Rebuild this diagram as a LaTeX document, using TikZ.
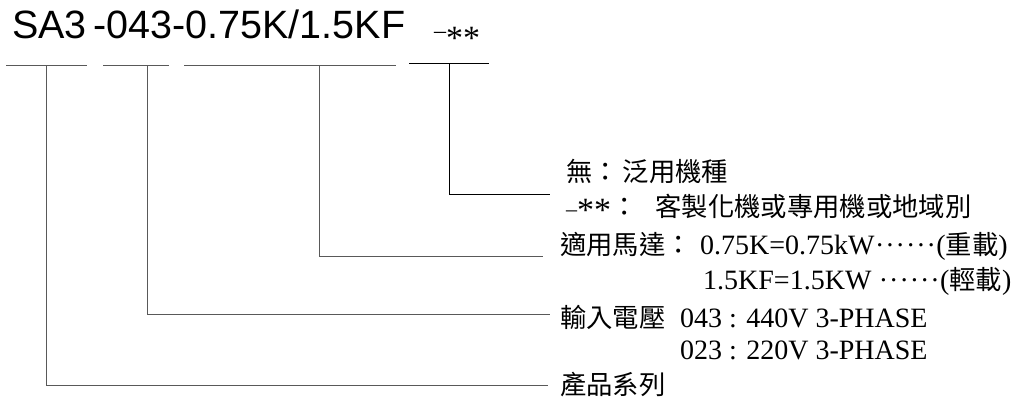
\documentclass[tikz,border=0pt]{standalone}
\usepackage{fontspec}
\setmainfont{Liberation Serif}
\newfontfamily\titlefont{Liberation Sans}
\newfontfamily\cjk[Scale=0.94]{Noto Sans CJK TC}
\usetikzlibrary{calc}
\newcommand\dotrow[0]{\foreach \k in {1,...,6}{\makebox[10.3pt]{·}}}

\begin{document}
\begin{tikzpicture}[x=1pt, y=-1pt]
\tikzset{lbl/.style={anchor=base west, inner sep=0pt, font=\fontsize{28}{28}\selectfont},
  lead/.style={black!65, line width=1pt}}
\useasboundingbox (0,0) rectangle (1012,405);

\node[anchor=base west, inner sep=0pt, font=\titlefont\fontsize{39.5}{39.5}\selectfont] (code) at (12,38) {SA3\,-043-0.75K/1.5KF};
\node[anchor=base west, inner sep=0pt, font=\fontsize{34}{34}\selectfont] (opt) at (434,38) {{\fontsize{24}{24}\selectfont –}\raisebox{-11pt}{**}};

\coordinate (tapS) at (46,65);
\coordinate (tapV) at (147,65);
\coordinate (tapM) at (319,65);
\coordinate (tapO) at (449,63);
\coordinate (endS) at (548,385);
\coordinate (endV) at (550,314);
\coordinate (endM) at (543,256);
\coordinate (endO) at (550,194);

\draw[lead] (6,65) -- (87,65);
\draw[lead] (103,65) -- (169,65);
\draw[lead] (184,65) -- (396,65);
\draw[lead, black] (409,63) -- (489,63);

\node[lbl] (none) at (566,181) {{\cjk 無：}\hspace{4pt}{\cjk 泛用機種}};
\node[lbl] (custom) at (566,216) {{\fontsize{22}{22}\selectfont –}\raisebox{-5pt}{\fontsize{34}{34}\selectfont **}{\cjk ：}\hspace{18pt}{\cjk 客製化機或專用機或地域別}};
\node[lbl] (motor) at (560,254) {\makebox[140pt][l]{\cjk 適用馬達：}0.75K=0.75kW\dotrow({\cjk 重載})};
\node[lbl] (motorF) at (703,289) {1.5KF=1.5KW \dotrow({\cjk 輕載})};
\node[lbl] (volt) at (560,327) {\makebox[120pt][l]{\cjk 輸入電壓}043 : 440V 3-PHASE};
\node[lbl] (voltL) at (680,359) {023 : 220V 3-PHASE};
\node[lbl] (series) at (560,394) {{\cjk 產品系列}};

\draw[lead, black] (tapO) |- (endO);
\draw[lead] (tapM) |- (endM);
\draw[lead] (tapV) |- (endV);
\draw[lead] (tapS) |- (endS);

\end{tikzpicture}
\end{document}
